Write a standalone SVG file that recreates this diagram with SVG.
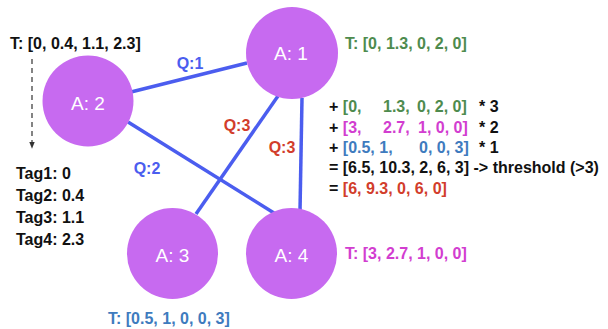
<svg xmlns="http://www.w3.org/2000/svg" width="608" height="329" viewBox="0 0 608 329">
<style>
text{font-family:"Liberation Sans",Arial,sans-serif;font-weight:bold;font-size:16px}
.node circle{fill:#C76AF0}
.node text{fill:#fff;font-size:19px;font-weight:normal;text-anchor:middle}
.edge{stroke:#4B5DEF;stroke-width:3.5;fill:none}
.blue{fill:#4B5DEF}
.red{fill:#D23D2B}
.green{fill:#4E8B4E}
.pink{fill:#D23DD0}
.steel{fill:#3E7BBE}
.blk{fill:#111}
</style>
<defs>
<marker id="ah" viewBox="0 0 10 10" refX="9" refY="5" markerWidth="6" markerHeight="6" orient="auto">
<path d="M0,1 L10,5 L0,9 z" fill="#333"/>
</marker>
</defs>
<g id="connectors">
<line class="edge" x1="131" y1="92" x2="247" y2="63"/>
<line class="edge" x1="128" y1="122" x2="274" y2="213"/>
<line class="edge" x1="278" y1="96" x2="196" y2="214"/>
<line class="edge" x1="302" y1="98" x2="300" y2="211"/>
<text class="blue" x="190" y="69" text-anchor="middle">Q:1</text>
<text class="red" x="237" y="131" text-anchor="middle">Q:3</text>
<text class="red" x="282" y="153" text-anchor="middle">Q:3</text>
<text class="blue" x="147" y="174" text-anchor="middle">Q:2</text>
</g>
<g id="node-a1" class="node"><circle cx="292" cy="53" r="46"/><text x="291" y="60">A: 1</text></g>
<g id="node-a2" class="node"><circle cx="88" cy="101" r="45.5"/><text x="88" y="110">A: 2</text></g>
<g id="node-a3" class="node"><circle cx="172.5" cy="253.5" r="45.5"/><text x="172.5" y="262">A: 3</text></g>
<g id="node-a4" class="node"><circle cx="291.5" cy="253.5" r="45.5"/><text x="291.5" y="262">A: 4</text></g>
<g id="tags">
<text class="blk" x="10" y="49">T: [0, 0.4, 1.1, 2.3]</text>
<line x1="32" y1="59" x2="32" y2="148" stroke="#333" stroke-width="1.2" stroke-dasharray="5,4" marker-end="url(#ah)"/>
<text class="blk" x="16" y="179">Tag1: 0</text>
<text class="blk" x="16" y="201">Tag2: 0.4</text>
<text class="blk" x="16" y="223">Tag3: 1.1</text>
<text class="blk" x="16" y="245">Tag4: 2.3</text>
</g>
<text class="green" x="345" y="49">T: [0, 1.3, 0, 2, 0]</text>
<text class="pink" x="345" y="259">T: [3, 2.7, 1, 0, 0]</text>
<text class="steel" x="108" y="324">T: [0.5, 1, 0, 0, 3]</text>
<g id="formula">
<text class="blk" x="329" y="112">+ <tspan class="green">[0,</tspan><tspan class="green" x="383">1.3,</tspan><tspan class="green" x="417">0, 2, 0]</tspan><tspan x="479">* 3</tspan></text>
<text class="blk" x="329" y="133">+ <tspan class="pink">[3,</tspan><tspan class="pink" x="383">2.7,</tspan><tspan class="pink" x="418">1, 0, 0]</tspan><tspan x="479">* 2</tspan></text>
<text class="blk" x="329" y="153">+ <tspan class="steel">[0.5, 1,</tspan><tspan class="steel" x="419">0, 0, 3]</tspan><tspan x="479">* 1</tspan></text>
<text class="blk" x="329" y="173">= [6.5, 10.3, 2, 6, 3] -&gt; threshold (&gt;3)</text>
<text class="blk" x="329" y="194">= <tspan class="red">[6, 9.3, 0, 6, 0]</tspan></text>
</g>
</svg>
